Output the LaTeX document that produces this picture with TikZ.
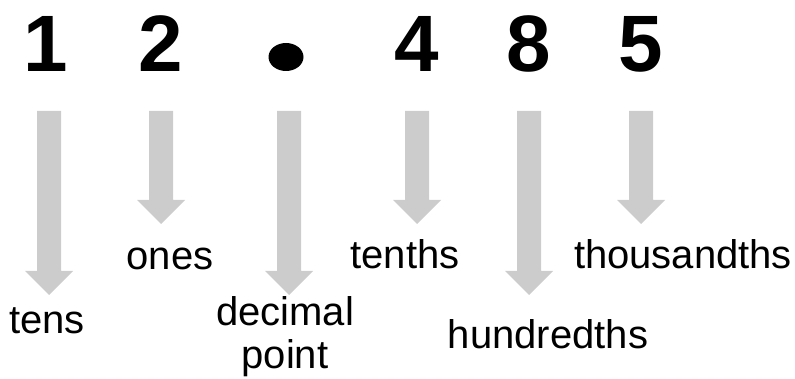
\documentclass[tikz,border=0pt]{standalone}
\usepackage{fontspec}
\setmainfont{Liberation Sans}
\usetikzlibrary{calc}
\definecolor{arrowgray}{RGB}{204,204,204}
\tikzset{
  digit/.style={font=\fontsize{80}{80}\selectfont\bfseries, inner sep=0pt, anchor=base},
  lbl/.style={font=\fontsize{40}{43}\selectfont, inner sep=0pt, anchor=base, align=center},
  arrowfill/.style={fill=arrowgray}
}
\newcommand\blockarr[2]{\fill[arrowfill] ($(#1)+(-12,0)$) -- ($(#2)+(-12,-24)$) -- ($(#2)+(-24,-24)$) -- (#2) -- ($(#2)+(24,-24)$) -- ($(#2)+(12,-24)$) -- ($(#1)+(12,0)$) -- cycle;}
\begin{document}
\begin{tikzpicture}[x=1pt,y=-1pt]
\useasboundingbox (0,0) rectangle (795,379);
% digits
\node[digit] (d1) at (46,72) {1};
\node[digit] (d2) at (161,72) {2};
\coordinate (dp) at (286,57);
\fill (dp) ellipse [x radius=17.5, y radius=14];
\node[digit] (d4) at (417,72) {4};
\node[digit] (d8) at (529,72) {8};
\node[digit] (d5) at (641,72) {5};
% arrow starts and tips
\coordinate (s1) at (49,111);  \coordinate (t1) at (49,295);
\coordinate (s2) at (161,111); \coordinate (t2) at (161,224);
\coordinate (s3) at (289,111); \coordinate (t3) at (289,295);
\coordinate (s4) at (417,111); \coordinate (t4) at (417,224);
\coordinate (s5) at (529,111); \coordinate (t5) at (529,295);
\coordinate (s6) at (641,111); \coordinate (t6) at (641,224);
\blockarr{s1}{t1}
\blockarr{s2}{t2}
\blockarr{s3}{t3}
\blockarr{s4}{t4}
\blockarr{s5}{t5}
\blockarr{s6}{t6}
% labels
\node[lbl] (l1) at (47,334) {tens};
\node[lbl] (l2) at (170,270) {ones};
\node[lbl] (l3) at (285,368) {decimal\\point};
\node[lbl] (l4) at (405,269) {tenths};
\node[lbl] (l5) at (548,348) {hundredths};
\node[lbl] (l6) at (683,269) {thousandths};
\end{tikzpicture}
\end{document}
